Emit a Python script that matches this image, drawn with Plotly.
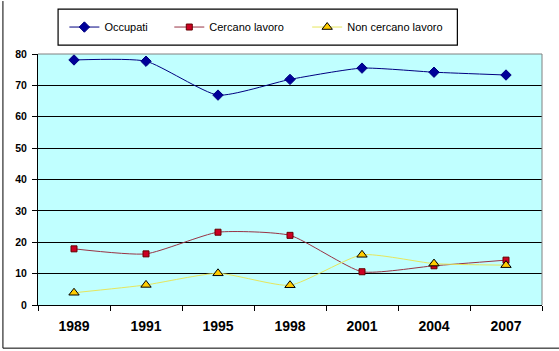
import plotly.graph_objects as go

years = ["1989", "1991", "1995", "1998", "2001", "2004", "2007"]
occupati = [78.1, 77.7, 66.9, 71.9, 75.5, 74.2, 73.3]
cercano = [17.9, 16.3, 23.2, 22.2, 10.6, 12.5, 14.3]
non_cercano = [3.9, 6.4, 10.1, 6.3, 16.0, 13.2, 12.7]
y_ticks = [0, 10, 20, 30, 40, 50, 60, 70, 80]

W, H = 559, 351
L, R, T, B = 37.6, 542.0, 49.0, 305.0

def px_x(p):
    return (p - L) / (R - L)

def px_y(p):
    return (B - p) / (B - T)

SM = 0.55

fig = go.Figure()
fig.add_trace(go.Scatter(
    x=years, y=occupati, name="Occupati", mode="lines+markers",
    line=dict(color="#000080", width=1, shape="spline", smoothing=SM),
    marker=dict(symbol="diamond", size=8, color="#000099",
                line=dict(color="#000080", width=1)),
    legend="legend", showlegend=True))
fig.add_trace(go.Scatter(
    x=years, y=cercano, name="Cercano lavoro", mode="lines+markers",
    line=dict(color="#993344", width=1, shape="spline", smoothing=SM),
    marker=dict(symbol="square", size=6, color="#CC0022",
                line=dict(color="#660000", width=1)),
    legend="legend2", showlegend=True))
fig.add_trace(go.Scatter(
    x=years, y=non_cercano, name="Non cercano lavoro", mode="lines+markers",
    line=dict(color="#E6E65C", width=1, shape="spline", smoothing=SM),
    marker=dict(symbol="triangle-up", size=9, color="#FFCC00",
                line=dict(color="#000000", width=1)),
    legend="legend3", showlegend=True))

legend_font = dict(family="Liberation Sans, Arial", size=11, color="#000000")
common = dict(orientation="h", font=legend_font, bgcolor="rgba(0,0,0,0)",
              borderwidth=0, itemwidth=30, xanchor="left", yanchor="middle",
              y=px_y(21.5), visible=True)

shapes = [
    # legend box
    dict(type="rect", xref="paper", yref="paper",
         x0=px_x(57.7), x1=px_x(457.3), y0=px_y(40), y1=px_y(3.3),
         line=dict(color="#000000", width=1.2), fillcolor="rgba(0,0,0,0)"),
    # plot area top and right border (gray)
    dict(type="line", xref="paper", yref="paper", x0=0, x1=1, y0=1, y1=1,
         line=dict(color="#808080", width=1)),
    dict(type="line", xref="paper", yref="paper", x0=1, x1=1, y0=0, y1=1,
         line=dict(color="#808080", width=1)),
    # outer chart border (left and bottom)
    dict(type="line", xref="paper", yref="paper", x0=px_x(2.5), x1=px_x(2.5),
         y0=px_y(349), y1=px_y(-5), line=dict(color="#000000", width=1)),
    dict(type="line", xref="paper", yref="paper", x0=px_x(2.5), x1=px_x(562),
         y0=px_y(349), y1=px_y(349), line=dict(color="#000000", width=1)),
]

fig.update_layout(
    width=W, height=H,
    margin=dict(l=L, r=W - R, t=T, b=H - B, pad=0),
    paper_bgcolor="#FFFFFF",
    plot_bgcolor="#C0FFFF",
    showlegend=True,
    font=dict(family="Liberation Sans, Arial", color="#000000"),
    legend=dict(x=px_x(64), **common),
    legend2=dict(x=px_x(169), **common),
    legend3=dict(x=px_x(307), **common),
    shapes=shapes,
    xaxis=dict(
        type="category", tickson="boundaries", ticks="outside", ticklen=5,
        tickcolor="#000000", showline=True, linecolor="#000000", linewidth=1,
        showgrid=False, tickfont=dict(size=14, family="Liberation Sans, Arial",
                                      weight="bold"),
        ticklabelstandoff=8, range=[-0.5, 6.5]),
    yaxis=dict(
        range=[0, 80], tickvals=y_ticks, ticks="outside", ticklen=5,
        tickcolor="#000000", showline=True, linecolor="#000000", linewidth=1,
        showgrid=True, gridcolor="#000000", gridwidth=1, zeroline=False,
        tickfont=dict(size=10.5, family="Liberation Sans, Arial", weight="bold"),
        ticklabelstandoff=3),
)

fig.write_html("out.html")
